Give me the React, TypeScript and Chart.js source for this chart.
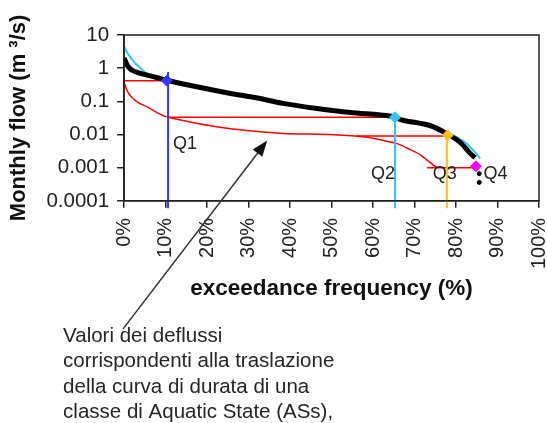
import React, { useEffect, useRef } from "react";
import { Chart, registerables } from "chart.js";
Chart.register(...registerables);

// exceedance frequency (%) / monthly flow (m3/s)
const blackX = [0, 1, 2.7, 5.8, 10, 17.8, 26, 31.6, 38.3, 46.5, 54.5, 64.1, 67.2, 73.7, 77.8, 81, 83.4, 84.6];
const blackY = [2.0, 1.1, 0.78, 0.61, 0.44, 0.27, 0.17, 0.13, 0.087, 0.061, 0.046, 0.036, 0.027, 0.0187, 0.0106, 0.0058, 0.0027, 0.002];
const cyanX = [0, 1, 2.5, 4, 6, 10, 17.8, 26, 31.6, 38.3, 46.5, 54.5, 64.1, 67.2, 73.7, 77.8, 80, 82.6, 85.3, 85.8];
const cyanY = [4.5, 2.6, 1.5, 1.0, 0.6, 0.42, 0.255, 0.16, 0.122, 0.082, 0.058, 0.044, 0.034, 0.026, 0.018, 0.011, 0.0085, 0.0053, 0.0023, 0.0019];
const redX = [0, 0.8, 1.9, 3.5, 5.8, 8, 10.6, 17.8, 24, 31.6, 38.3, 50.4, 58.6, 62, 65.8, 69, 71.5, 73, 75.4];
const redY = [0.38, 0.2, 0.13, 0.09, 0.066, 0.045, 0.033, 0.0216, 0.016, 0.0125, 0.0108, 0.0098, 0.0083, 0.0068, 0.0053, 0.0035, 0.0024, 0.0017, 0.001];
const tailDotsX = [85.6, 85.6];
const tailDotsY = [0.00066, 0.00036];

const qNames = ["Q1", "Q2", "Q3", "Q4"];
const qX = [10.3, 65.3, 78.0, 84.8];
const qY = [0.42, 0.033, 0.0095, 0.0011];
const qColors = ["#3535ff", "#33c6f4", "#ffc21a", "#ff00ff"];
// red horizontal lines: start x, end x, level
const hStartX = [0, 10.6, 56, 73];
const hEndX = [10.3, 65.3, 77.8, 84.8];
const hLevel = [0.42, 0.033, 0.009, 0.001];
// vertical lines: x, top, bottom
const vX = [10.6, 65.3, 77.8];
const vTop = [0.76, 0.033, 0.0095];
const vBottom = 0.00006;
// Q label anchors (data coords)
const qLabelX = [11.8, 59.5, 74.4, 86.6];
const qLabelY = [0.0053, 0.00066, 0.00066, 0.00066];

const xTicks = [0, 10, 20, 30, 40, 50, 60, 70, 80, 90, 100];
const yTicks = [0.0001, 0.001, 0.01, 0.1, 1, 10];
const yTickLabels = ["0.0001", "0.001", "0.01", "0.1", "1", "10"];

const arrowHead = { x: 34.5, y: 0.0066 };
const noteLines = [
  "Valori dei deflussi",
  "corrispondenti alla traslazione",
  "della curva di durata di una",
  "classe di Aquatic State (ASs),",
];

const zip = (xs: number[], ys: number[]) => xs.map((x, i) => ({ x, y: ys[i] }));

export default function App() {
  const ref = useRef<HTMLCanvasElement>(null);
  useEffect(() => {
    document.body.style.margin = "0";
    const ctx = ref.current!.getContext("2d")!;
    const font = "'Liberation Sans', Arial, sans-serif";

    // listed bottom-most first; reversed below since Chart.js paints dataset 0 on top
    const datasets: any[] = [];
    datasets.push({ data: zip(redX, redY), borderColor: "#ff0000", borderWidth: 1.5, pointRadius: 0, tension: 0.3 });
    hStartX.forEach((s, i) => {
      datasets.push({ data: [{ x: s, y: hLevel[i] }, { x: hEndX[i], y: hLevel[i] }], borderColor: "#ff0000", borderWidth: 1.5, pointRadius: 0 });
    });
    datasets.push({ data: zip(cyanX, cyanY), borderColor: "#33c6f4", borderWidth: 2, pointRadius: 0, tension: 0.3 });
    datasets.push({ data: zip(blackX, blackY), borderColor: "#000000", borderWidth: 5, pointRadius: 0, tension: 0.3 });
    datasets.push({ data: zip(tailDotsX, tailDotsY), showLine: false, pointRadius: 2, backgroundColor: "#000", borderColor: "#000", clip: false });
    vX.forEach((x, i) => {
      datasets.push({ data: [{ x, y: vTop[i] }, { x, y: vBottom }], borderColor: qColors[i], borderWidth: 2, pointRadius: 0, clip: false });
    });
    qX.forEach((x, i) => {
      datasets.push({ data: [{ x, y: qY[i] }], showLine: false, pointStyle: "rectRot", pointRadius: 5.5, backgroundColor: qColors[i], borderColor: qColors[i], clip: false });
    });
    datasets.reverse();

    const annot = {
      id: "annot",
      afterDraw(chart: any) {
        const c = chart.ctx;
        const { left, top, right, bottom } = chart.chartArea;
        const xs = chart.scales.x, ys = chart.scales.y;
        c.save();
        c.strokeStyle = "#222";
        c.lineWidth = 1.5;
        c.strokeRect(left, top, right - left, bottom - top);
        // Q labels
        c.fillStyle = "#222";
        c.font = `18px ${font}`;
        c.textBaseline = "middle";
        c.textAlign = "left";
        qNames.forEach((n, i) => c.fillText(n, xs.getPixelForValue(qLabelX[i]), ys.getPixelForValue(qLabelY[i])));
        // note text
        const tx = left - 61, ty = bottom + 135;
        c.font = `20.5px ${font}`;
        c.fillStyle = "#262626";
        noteLines.forEach((l, i) => c.fillText(l, tx, ty + i * 25.5));
        // arrow
        const hx = xs.getPixelForValue(arrowHead.x), hy = ys.getPixelForValue(arrowHead.y);
        const sx = tx + 60, sy = ty - 7;
        const ang = Math.atan2(hy - sy, hx - sx);
        c.strokeStyle = "#333";
        c.lineWidth = 1.5;
        c.beginPath();
        c.moveTo(sx, sy);
        c.lineTo(hx - 10 * Math.cos(ang), hy - 10 * Math.sin(ang));
        c.stroke();
        c.fillStyle = "#111";
        c.beginPath();
        c.moveTo(hx, hy);
        c.lineTo(hx - 16 * Math.cos(ang) + 6 * Math.sin(ang), hy - 16 * Math.sin(ang) - 6 * Math.cos(ang));
        c.lineTo(hx - 16 * Math.cos(ang) - 6 * Math.sin(ang), hy - 16 * Math.sin(ang) + 6 * Math.cos(ang));
        c.closePath();
        c.fill();
        c.restore();
      },
    };

    const chart = new Chart(ctx, {
      type: "line",
      data: { datasets },
      plugins: [annot],
      options: {
        animation: false,
        responsive: false,
        parsing: false as any,
        layout: { padding: { left: 6, top: 35, right: 8, bottom: 121 } },
        plugins: { legend: { display: false }, tooltip: { enabled: false } },
        scales: {
          x: {
            type: "linear",
            min: 0,
            max: 100,
            afterBuildTicks: (s: any) => { s.ticks = xTicks.map((v) => ({ value: v })); },
            afterFit: (s: any) => { s.paddingRight = 0; s.paddingLeft = 0; },
            ticks: { minRotation: 90, maxRotation: 90, padding: 10, color: "#222", font: { family: font, size: 20 }, callback: (v: any) => v + "%" },
            grid: { drawOnChartArea: false, tickLength: 7, color: "#222", lineWidth: 1.5 },
            border: { display: true, color: "#222", width: 1.5 },
            title: { display: true, text: "exceedance frequency (%)", color: "#111", font: { family: font, size: 22.5, weight: "bold" }, padding: { top: -4, bottom: 0 } },
          },
          y: {
            type: "logarithmic",
            min: 0.0001,
            max: 10,
            afterBuildTicks: (s: any) => { s.ticks = yTicks.map((v) => ({ value: v })); },
            ticks: { color: "#222", padding: 8, font: { family: font, size: 20.5 }, callback: (v: any) => yTickLabels[yTicks.indexOf(Number(v))] ?? "" },
            grid: { drawOnChartArea: false, tickLength: 7, color: "#222", lineWidth: 1.5 },
            border: { display: true, color: "#222", width: 1.5 },
            title: { display: true, text: "Monthly flow (m ³/s)", color: "#111", font: { family: font, size: 22, weight: "bold" }, padding: { top: 0, bottom: 6 } },
          },
        },
      },
    });
    return () => chart.destroy();
  }, []);
  return <canvas ref={ref} width={547} height={423} style={{ display: "block" }} />;
}
